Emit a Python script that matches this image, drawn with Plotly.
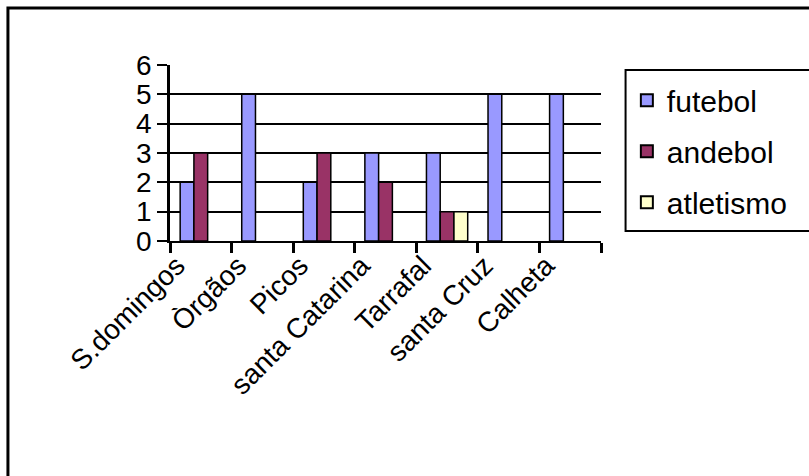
import plotly.graph_objects as go

# Sports practised per locality
categories = ["S.domingos", "Òrgãos", "Picos", "santa Catarina", "Tarrafal", "santa Cruz", "Calheta"]
futebol = [2, 5, 2, 3, 3, 5, 5]
andebol = [3, None, 3, 2, 1, None, None]
atletismo = [None, None, None, None, 1, None, None]

series = [
    ("futebol", futebol, "#9999FF"),
    ("andebol", andebol, "#993366"),
    ("atletismo", atletismo, "#FFFFCC"),
]

FONT = "Arial, 'Liberation Sans', sans-serif"

fig = go.Figure()
for i, (name, vals, color) in enumerate(series):
    fig.add_trace(go.Bar(
        x=categories, y=vals, name=name,
        marker=dict(color=color, line=dict(color="black", width=1.5)),
        legendgroup=f"g{i}",
    ))

fig.update_layout(
    width=809, height=476,
    margin=dict(l=170, r=208, t=65, b=235),
    paper_bgcolor="white", plot_bgcolor="white",
    barmode="group", bargap=0.33, bargroupgap=0,
    font=dict(family=FONT, size=28, color="black"),
    showlegend=True,
    legend=dict(
        x=1.06, xanchor="left", y=0.947, yanchor="top",
        borderwidth=0, bgcolor="rgba(0,0,0,0)",
        font=dict(size=30), tracegroupgap=9,
        itemsizing="constant", itemwidth=30,
    ),
    xaxis=dict(
        type="category", tickson="boundaries", ticks="outside", ticklen=10,
        tickwidth=2.5, tickcolor="black", showline=True, linecolor="black",
        linewidth=2, showgrid=False, tickangle=-45,
        tickfont=dict(size=28), ticklabelshift=-24, ticklabelstandoff=-5,
    ),
    yaxis=dict(
        range=[0, 6], dtick=1, ticks="outside", ticklen=10, tickwidth=2,
        tickcolor="black", showline=True, linecolor="black", linewidth=2.5,
        showgrid=True, gridcolor="black", gridwidth=2, zeroline=False,
        tickfont=dict(size=28),
    ),
)

# chart frame
fig.add_shape(type="rect", xref="paper", yref="paper",
              x0=-0.376, x1=1.5, y0=-1.5, y1=1.324,
              line=dict(color="black", width=3), layer="below")
# legend frame, running off the right edge
fig.add_shape(type="rect", xref="paper", yref="paper",
              x0=1.057, x1=1.5, y0=0.057, y1=0.972,
              line=dict(color="black", width=2), layer="below")

fig.write_html("out.html")
